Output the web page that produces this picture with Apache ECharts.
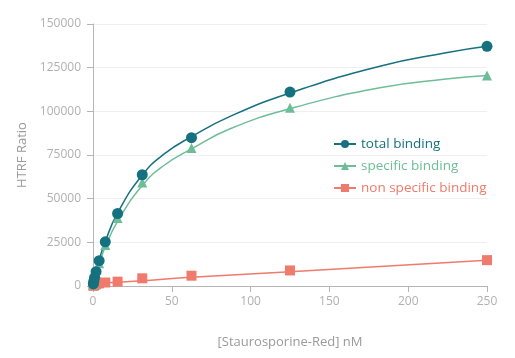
<!DOCTYPE html>
<html>
<head>
<meta charset="utf-8">
<script src="https://cdn.jsdelivr.net/npm/echarts@6/dist/echarts.min.js"></script>
<style>html,body{margin:0;padding:0;background:#fff}#c{width:515px;height:358px}</style>
</head>
<body>
<div id="c"></div>
<script>
// measured points (markers)
var concentrations = [0.24, 0.49, 0.98, 1.95, 3.9, 7.8, 15.6, 31.25, 62.5, 125, 250];
var totalBinding = [1200, 2600, 4800, 8200, 14500, 25300, 41500, 63700, 84900, 111000, 137200];
var specificBinding = [1000, 2200, 4200, 7300, 13000, 23500, 39000, 59300, 79000, 102000, 120500];
var nonSpecificBinding = [150, 300, 600, 1000, 1500, 2000, 2500, 4400, 5900, 8900, 14800];
// fitted curves
var fitX = [0, 0.98, 1.95, 3.9, 7.8, 15.6, 31.25, 45, 62.5, 87, 125, 182, 224, 250];
var totalFit = [0, 4600, 8500, 15000, 25500, 41800, 63500, 75500, 85500, 97100, 110500, 125800, 133500, 137200];
var specificFit = [0, 3600, 7000, 12500, 22500, 37000, 57500, 69000, 78500, 90000, 101500, 113500, 118500, 120500];
var nsFitX = [0, 31.25, 62.5, 125, 250];
var nsFit = [1400, 3000, 5000, 8200, 14800];
var xTicks = [0, 50, 100, 150, 200, 250];
var yTicks = [0, 25000, 50000, 75000, 100000, 125000, 150000];

function pairs(xs, ys){ return xs.map(function(x,i){ return [x, ys[i]]; }); }

var C_TOTAL = '#15707f', C_SPEC = '#6dbe98', C_NS = '#f07a6b';
var font = 'Open Sans';
function curve(name, xs, ys, color, sym, size){
  return { name: name, type: 'line', data: pairs(xs, ys), smooth: true, showSymbol: false,
    symbol: sym, symbolSize: size, itemStyle: { color: color }, lineStyle: { color: color, width: 1.5 }, z: 2 };
}
function marks(name, ys, color, sym, size){
  return { name: name, type: 'scatter', data: pairs(concentrations, ys),
    symbol: sym, symbolSize: size, itemStyle: { color: color, opacity: 1 }, z: 3 };
}
var chart = echarts.init(document.getElementById('c'));
chart.setOption({
  animation: false,
  textStyle: { fontFamily: font },
  grid: { left: 93, right: 28, top: 24, bottom: 72 },
  xAxis: {
    type: 'value', min: xTicks[0], max: xTicks[xTicks.length-1], interval: 50,
    name: '[Staurosporine-Red] nM', nameLocation: 'middle', nameGap: 50,
    nameTextStyle: { color: '#9a9a9a', fontSize: 13, fontFamily: font },
    axisLine: { show: true, lineStyle: { color: '#b5b5b5', width: 1 } },
    axisTick: { show: true, length: 6, lineStyle: { color: '#b5b5b5' } },
    axisLabel: { color: '#b0b0b0', fontSize: 12, margin: 10, fontFamily: font, formatter: function(v){ return String(v); } },
    splitLine: { show: false }
  },
  yAxis: {
    type: 'value', min: yTicks[0], max: yTicks[yTicks.length-1], interval: 25000,
    name: 'HTRF Ratio', nameLocation: 'middle', nameGap: 53, nameRotate: 90,
    nameTextStyle: { color: '#9a9a9a', fontSize: 13, fontFamily: font },
    axisLine: { show: true, lineStyle: { color: '#b5b5b5', width: 1 } },
    axisTick: { show: true, length: 6, lineStyle: { color: '#b5b5b5' } },
    axisLabel: { color: '#b0b0b0', fontSize: 12, margin: 12, fontFamily: font, formatter: function(v){ return String(v); } },
    splitLine: { show: true, lineStyle: { color: '#efefef', width: 1 } }
  },
  legend: {
    orient: 'vertical', left: 328, top: 132, itemGap: 8, itemWidth: 22, itemHeight: 10,
    textStyle: { fontSize: 13.5, fontFamily: font },
    data: [
      { name: 'total binding', textStyle: { color: C_TOTAL } },
      { name: 'specific binding', textStyle: { color: C_SPEC } },
      { name: 'non specific binding', textStyle: { color: C_NS } }
    ]
  },
  series: [
    curve('non specific binding', nsFitX, nsFit, C_NS, 'rect', 10),
    curve('specific binding', fitX, specificFit, C_SPEC, 'triangle', 10),
    curve('total binding', fitX, totalFit, C_TOTAL, 'circle', 11),
    marks('non specific binding', nonSpecificBinding, C_NS, 'rect', 10),
    marks('specific binding', specificBinding, C_SPEC, 'triangle', 10),
    marks('total binding', totalBinding, C_TOTAL, 'circle', 11)
  ]
});
</script>
</body>
</html>
